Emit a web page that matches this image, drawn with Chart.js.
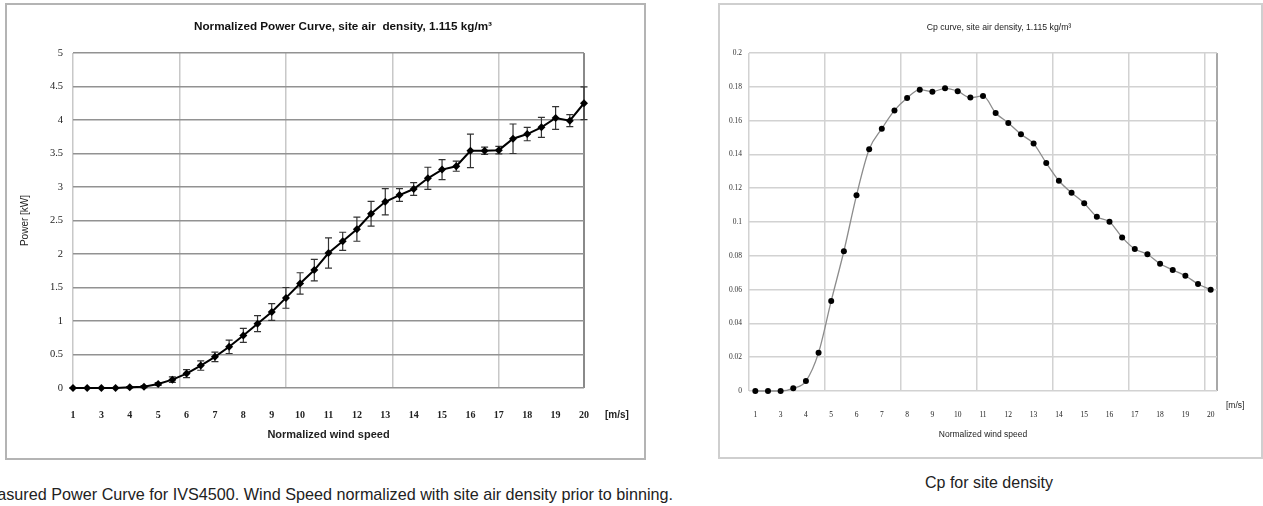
<!DOCTYPE html>
<html>
<head>
<meta charset="utf-8">
<script src="https://cdn.jsdelivr.net/npm/chart.js@4.4.1/dist/chart.umd.min.js"></script>
<style>
  html, body { margin:0; padding:0; background:#fff; }
  body { width:1263px; height:506px; overflow:hidden; position:relative; }
  .frame { position:absolute; box-sizing:border-box; }
  #frameLeft { left:5px; top:3px; width:641px; height:457px; border:2px solid #b4b4b4; }
  #frameRight { left:718px; top:3px; width:545px; height:456px; border:2px solid #cfcfcf; }
  canvas { position:absolute; }
  #powerChart { left:5px; top:3px; }
  #cpChart { left:718px; top:3px; }
  .caption { position:absolute; font-family:"Liberation Sans", Arial, sans-serif; font-size:16px; line-height:16px; color:#222; white-space:nowrap; }
  #capLeft { right:590px; top:486px; font-size:16.2px; }
  #capRight { left:925px; top:475px; }
</style>
</head>
<body>
<div class="frame" id="frameLeft"></div>
<div class="frame" id="frameRight"></div>
<canvas id="powerChart" width="640" height="456"></canvas>
<canvas id="cpChart" width="544" height="455"></canvas>
<div class="caption" id="capLeft">Measured Power Curve for IVS4500. Wind Speed normalized with site air density prior to binning.</div>
<div class="caption" id="capRight">Cp for site density</div>

<script>
// wind speed bins (m/s), every second one is labelled on the axis
const windBins = ['1','2','3','3.5','4','4.5','5','5.5','6','6.5','7','7.5','8','8.5','9','9.5','10','10.5',
  '11','11.5','12','12.5','13','13.5','14','14.5','15','15.5','16','16.5','17','17.5','18','18.5','19','19.5','20'];

// normalized power [kW] and its error bar half width
const powerKW = [0,0,0,0,0.01,0.02,0.06,0.125,0.215,0.335,0.465,0.615,0.785,0.96,1.135,1.345,1.56,1.76,2.015,
  2.19,2.37,2.6,2.78,2.88,2.97,3.13,3.26,3.31,3.54,3.54,3.55,3.72,3.79,3.89,4.03,3.99,4.25];
const powerErr = [0.005,0.005,0.005,0.005,0.01,0.015,0.02,0.04,0.06,0.07,0.07,0.1,0.105,0.12,0.125,0.155,0.16,0.16,0.225,
  0.135,0.18,0.185,0.195,0.095,0.095,0.165,0.15,0.075,0.25,0.055,0.055,0.22,0.1,0.15,0.17,0.09,0.245];

// power coefficient
const cpValues = [0,0,0,0.0016,0.0059,0.0227,0.0533,0.0827,0.1158,0.143,0.1552,0.166,0.1734,0.1783,0.1771,0.1791,0.1774,
  0.1736,0.1746,0.1645,0.1586,0.1519,0.1464,0.1349,0.1244,0.1173,0.1111,0.1031,0.1002,0.0909,0.084,0.0809,0.0753,
  0.0716,0.0682,0.0633,0.0599];

const SANS = '"Liberation Sans", Arial, sans-serif'
const SERIF = '"Liberation Serif", "Times New Roman", serif'

// title drawn at a fixed place (excel had it off-centre)
const headline = {
  id: 'headline',
  afterDraw(chart, args, o){
    const ctx = chart.ctx
    ctx.save()
    ctx.font = o.font
    ctx.fillStyle = o.color
    ctx.textAlign = 'center'
    ctx.textBaseline = 'middle'
    ctx.fillText(o.text, o.x, o.y)
    ctx.restore()
  }
}

// "[m/s]" next to the last tick label
const unitLabel = {
  id: 'unitLabel',
  afterDraw(chart, args, o){
    const {ctx, chartArea} = chart
    ctx.save()
    ctx.font = o.font
    ctx.fillStyle = o.color
    ctx.textBaseline = 'middle'
    ctx.fillText(o.text, chartArea.right + o.dx, chartArea.bottom + o.dy)
    ctx.restore()
  }
}

const errorBars = {
  id: 'errorBars',
  beforeDatasetsDraw(chart){
    const {ctx, scales: {y}} = chart
    const pts = chart.getDatasetMeta(0).data
    ctx.save()
    ctx.strokeStyle = '#333'
    ctx.lineWidth = 1.2
    pts.forEach((p, i) => {
      const top = y.getPixelForValue(powerKW[i] + powerErr[i])
      const bot = y.getPixelForValue(powerKW[i] - powerErr[i])
      ctx.beginPath()
      ctx.moveTo(p.x, top); ctx.lineTo(p.x, bot)
      ctx.moveTo(p.x - 3.5, top); ctx.lineTo(p.x + 3.5, top)
      ctx.moveTo(p.x - 3.5, bot); ctx.lineTo(p.x + 3.5, bot)
      ctx.stroke()
    })
    ctx.restore()
  }
}

function binAxis(min, max, gridAt, gridColor, edgeColor, font, pad, title){
  return {
    type: 'linear', min: min, max: max,
    afterBuildTicks: s => {
      const vals = new Set(gridAt)
      windBins.forEach((b, i) => { if (i % 2 === 0) vals.add(i) })
      s.ticks = [...vals].sort((a, b) => a - b).map(v => ({value: v}))
    },
    afterFit: s => { s.height = title.boxH },
    ticks: {
      autoSkip: false, maxRotation: 0, padding: pad, font: font, color: '#222',
      callback: v => (Number.isInteger(v) && v % 2 === 0) ? windBins[v] : ''
    },
    grid: {
      drawTicks: false,
      lineWidth: c => c.tick.value === max ? 2 : 1.5,
      color: c => !gridAt.includes(c.tick.value) ? 'rgba(0,0,0,0)' : (c.tick.value === max ? edgeColor : gridColor)
    },
    border: {display: false},
    title: {display: true, text: title.text, font: title.font, color: '#222', padding: {top: 0, bottom: title.pb}}
  }
}

new Chart(document.getElementById('powerChart'), {
  type: 'line',
  data: {
    datasets: [{
      data: powerKW.map((v, i) => ({x: i, y: v})),
      borderColor: '#000',
      borderWidth: 2,
      pointStyle: 'rectRot',
      pointRadius: 4,
      pointBackgroundColor: '#000',
      pointBorderColor: '#000',
      pointBorderWidth: 0,
      clip: false
    }]
  },
  options: {
    responsive: false,
    animation: false,
    layout: {padding: {top: 50, right: 61, left: 0, bottom: 0}},
    plugins: {
      legend: {display: false},
      tooltip: {enabled: false},
      headline: {text: 'Normalized Power Curve, site air  density, 1.115 kg/m³', font: 'bold 11.7px ' + SANS, color: '#111', x: 338, y: 24},
      unitLabel: {text: '[m/s]', font: 'bold 10px ' + SANS, color: '#222', dx: 21, dy: 27}
    },
    scales: {
      x: binAxis(0, 36, [0, 7.5, 15, 22.5, 30, 36], '#c8c8c8', '#8a8a8a', {family: SERIF, size: 10, weight: 'bold'}, 21,
        {text: 'Normalized wind speed', font: {family: SANS, size: 11, weight: 'bold'}, pb: 17, boxH: 71}),
      y: {
        min: 0, max: 5,
        afterFit: s => { s.width = 68 },
        ticks: {stepSize: 0.5, padding: 10, color: '#222', font: {family: SERIF, size: 10.5},
          callback: v => String(v)},
        grid: {drawTicks: false, color: '#929292', lineWidth: 1.5},
        border: {display: false},
        title: {display: true, text: 'Power [kW]', font: {family: SANS, size: 10}, color: '#222', padding: {top: 14, bottom: 0}}
      }
    }
  },
  plugins: [errorBars, headline, unitLabel]
})

new Chart(document.getElementById('cpChart'), {
  type: 'line',
  data: {
    datasets: [{
      data: cpValues.map((v, i) => ({x: i, y: v})),
      borderColor: '#8c8c8c',
      borderWidth: 1.3,
      cubicInterpolationMode: 'monotone',
      pointStyle: 'circle',
      pointRadius: 3,
      pointBackgroundColor: '#000',
      pointBorderColor: '#000',
      pointBorderWidth: 0,
      clip: false
    }]
  },
  options: {
    responsive: false,
    animation: false,
    layout: {padding: {top: 50, right: 45, left: 0, bottom: 0}},
    plugins: {
      legend: {display: false},
      tooltip: {enabled: false},
      headline: {text: 'Cp curve, site air density, 1.115 kg/m³', font: '8.7px ' + SANS, color: '#222', x: 281, y: 25},
      unitLabel: {text: '[m/s]', font: '8.5px ' + SANS, color: '#222', dx: 9, dy: 15}
    },
    scales: {
      x: binAxis(-0.5, 36.5, [-0.5, 5.5, 11.5, 17.5, 23.5, 29.5, 35.5, 36.5], '#d2d2d2', '#a8a8a8', {family: SERIF, size: 7.5}, 20,
        {text: 'Normalized wind speed', font: {family: SANS, size: 8.5}, pb: 18, boxH: 67}),
      y: {
        min: 0, max: 0.2,
        afterFit: s => { s.width = 31 },
        ticks: {stepSize: 0.02, padding: 7, color: '#333', font: {family: SERIF, size: 7.5},
          callback: v => String(+v.toFixed(2))},
        grid: {drawTicks: false, color: '#d2d2d2', lineWidth: 1.5},
        border: {display: false}
      }
    }
  },
  plugins: [headline, unitLabel]
})
</script>
</body>
</html>
